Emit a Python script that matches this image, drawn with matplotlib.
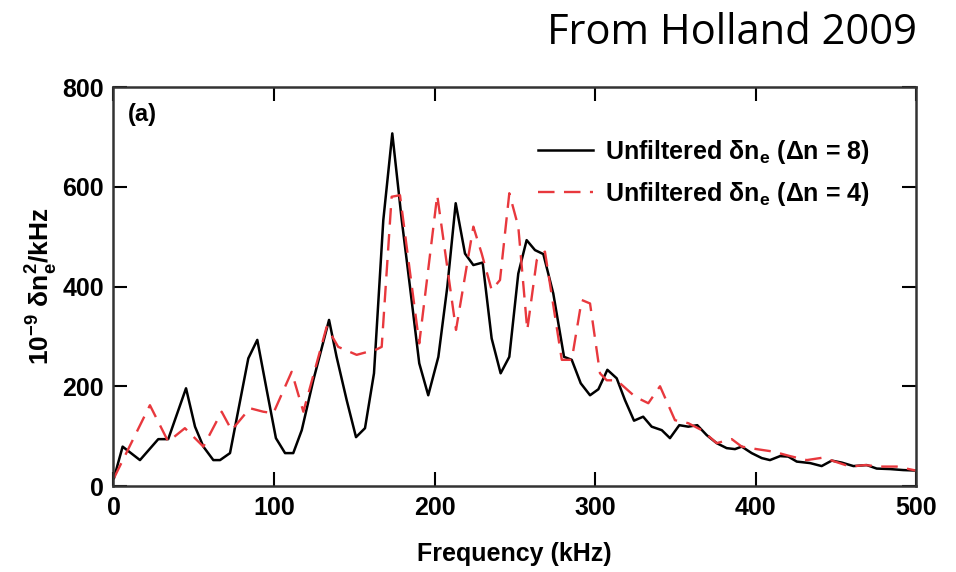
import matplotlib
matplotlib.use('Agg')
import matplotlib.pyplot as plt

# === Данные ===
f_dn8 = [0.3, 5.7, 16.5, 27.9, 34.1, 45.2, 50.8, 56.0, 62.2, 66.4, 72.6, 84.0, 89.6,
         95.5, 101.2, 106.9, 112.0, 117.3, 124.5, 134.3, 139.0, 145.3, 151.1, 156.7,
         162.3, 168.1, 173.7, 179.6, 184.7, 190.5, 196.1, 202.4, 208.0, 213.2, 219.0,
         224.2, 230.0, 235.6, 241.2, 246.6, 252.2, 257.4, 262.6, 267.8, 274.0, 280.7,
         285.5, 291.1, 296.9, 302.1, 307.7, 313.5, 318.7, 324.3, 330.0, 335.3, 341.6,
         346.7, 352.5, 358.1, 363.7, 369.6, 375.8, 382.0, 387.2, 391.4, 397.6, 403.9,
         409.0, 415.3, 420.4, 425.7, 434.0, 441.2, 447.5, 453.7, 461.0, 469.3, 475.5,
         483.8, 492.0, 500.0]
p_dn8 = [16, 79, 52, 94, 94, 196, 119, 79, 52, 52, 66, 256, 293,
         192, 96, 66, 66, 112, 212, 333, 259, 172, 98, 116,
         226, 533, 707, 533, 400, 246, 182, 259, 400, 567, 466,
         443, 448, 296, 226, 259, 426, 493, 473, 465, 386, 259,
         253, 206, 182, 194, 233, 216, 172, 131, 139, 119, 112,
         96, 122, 119, 122, 102, 86, 76, 74, 79, 66, 56,
         52, 60, 59, 49, 46, 40, 51, 47, 40, 42, 35,
         34, 32, 31]

f_dn4 = [0.3, 22.7, 34.1, 44.5, 56.0, 67.4, 73.6, 85.0, 93.3, 99.6, 111.0, 118.3,
         132.8, 140.0, 151.5, 164.0, 167.1, 173.3, 178.5, 190.5, 201.7, 213.4, 224.2,
         229.4, 235.6, 240.8, 246.6, 252.2, 257.8, 263.7, 268.8, 279.3, 285.5, 291.7,
         296.9, 303.1, 307.3, 313.5, 325.0, 333.2, 340.5, 349.8, 358.1, 366.5, 375.8,
         385.2, 391.4, 400.7, 411.1, 421.5, 431.9, 442.2, 449.5, 458.9, 468.2, 477.6,
         488.0, 500.0]
p_dn4 = [16, 162, 89, 116, 79, 149, 112, 156, 149, 146, 229, 149,
         319, 279, 263, 274, 279, 580, 583, 286, 583, 313, 520,
         466, 393, 413, 587, 520, 313, 453, 470, 253, 253, 373,
         366, 226, 212, 212, 179, 166, 200, 132, 126, 112, 86,
         94, 79, 74, 69, 60, 52, 57, 49, 39, 42, 39,
         39, 31]

x_ticks = [0, 100, 200, 300, 400, 500]
y_ticks = [0, 200, 400, 600, 800]

plt.rcParams['font.family'] = ['Liberation Sans', 'DejaVu Sans']
plt.rcParams['font.weight'] = 'bold'

fig = plt.figure(figsize=(9.56, 5.72), dpi=100)
ax = fig.add_axes([0.1187, 0.1503, 0.8395, 0.6976])

ax.plot(f_dn8, p_dn8, color='black', lw=1.8,
        label='Unfiltered \u03b4n$_\\mathregular{e}$ (\u0394n = 8)')
ax.plot(f_dn4, p_dn4, color='#e8383d', lw=1.7, dashes=(7, 4),
        label='Unfiltered \u03b4n$_\\mathregular{e}$ (\u0394n = 4)')

ax.set_xlim(0, 500)
ax.set_ylim(0, 800)
ax.set_xticks(x_ticks)
ax.set_yticks(y_ticks)
ax.tick_params(direction='in', length=10, width=1.5, top=True, right=True,
               labelsize=18, pad=7)
for s in ax.spines.values():
    s.set_linewidth(1.8)
    s.set_color('#333333')

ax.set_xlabel('Frequency (kHz)', fontsize=18, fontweight='bold', labelpad=16)
ax.set_ylabel('10$^{\\mathregular{-9}}$ \u03b4n$_\\mathregular{e}^\\mathregular{2}$/kHz',
              fontsize=19, fontweight='bold', labelpad=2)

ax.text(0.018, 0.96, '(a)', transform=ax.transAxes, fontsize=17,
        fontweight='bold', va='top', ha='left')

leg = ax.legend(loc='upper right', bbox_to_anchor=(0.97, 0.928), frameon=False,
                fontsize=18, handlelength=2.2, handletextpad=0.45, labelspacing=0.55)

fig.text(0.959, 0.942, 'From Holland 2009', fontsize=30, fontweight='normal',
         family=['Open Sans', 'DejaVu Sans'], ha='right', va='center')

fig.savefig('out.png', dpi=100)
